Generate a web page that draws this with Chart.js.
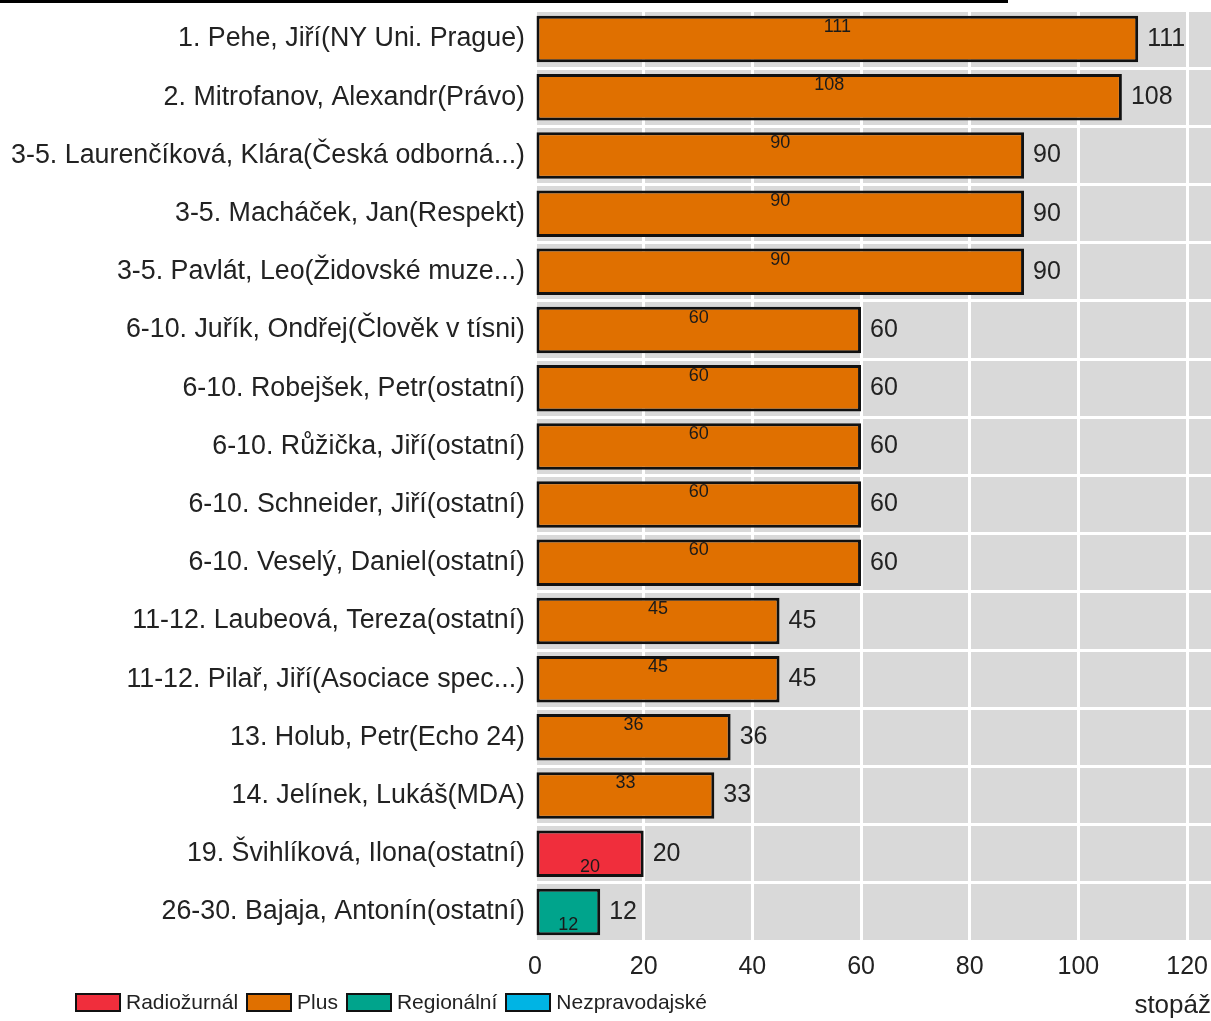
<!DOCTYPE html>
<html>
<head>
<meta charset="utf-8">
<script src="https://cdn.jsdelivr.net/npm/chart.js@4.4.1/dist/chart.umd.min.js"></script>
<style>
  html, body { margin: 0; padding: 0; background: #fff; }
  #wrap { position: relative; width: 1211px; height: 1021px; overflow: hidden; }
  #topline { position: absolute; left: 0; top: 0; width: 1008px; height: 3px; background: #000; }
  #legend { position: absolute; left: 75px; top: 990px; display: flex; align-items: center;
            font-family: "Liberation Sans", Arial, sans-serif; font-size: 21px; color: #222; }
  .item { display: flex; align-items: center; margin-right: 8px; }
  .box { width: 42px; height: 15px; border: 2px solid #111; margin-right: 5px; box-sizing: content-box; }
</style>
</head>
<body>
<div id="wrap">
  <canvas id="c" width="1211" height="1021"></canvas>
  <div id="topline"></div>
  <div id="legend"></div>
</div>
<script>
const categories = [
  "1. Pehe, Jiří(NY Uni. Prague)",
  "2. Mitrofanov, Alexandr(Právo)",
  "3-5. Laurenčíková, Klára(Česká odborná...)",
  "3-5. Macháček, Jan(Respekt)",
  "3-5. Pavlát, Leo(Židovské muze...)",
  "6-10. Juřík, Ondřej(Člověk v tísni)",
  "6-10. Robejšek, Petr(ostatní)",
  "6-10. Růžička, Jiří(ostatní)",
  "6-10. Schneider, Jiří(ostatní)",
  "6-10. Veselý, Daniel(ostatní)",
  "11-12. Laubeová, Tereza(ostatní)",
  "11-12. Pilař, Jiří(Asociace spec...)",
  "13. Holub, Petr(Echo 24)",
  "14. Jelínek, Lukáš(MDA)",
  "19. Švihlíková, Ilona(ostatní)",
  "26-30. Bajaja, Antonín(ostatní)"
];
const seriesNames = ["Radiožurnál", "Plus", "Regionální", "Nezpravodajské"];
const radiozurnal    = [0, 0, 0, 0, 0, 0, 0, 0, 0, 0, 0, 0, 0, 0, 20, 0];
const plus           = [111, 108, 90, 90, 90, 60, 60, 60, 60, 60, 45, 45, 36, 33, 0, 0];
const regionalni     = [0, 0, 0, 0, 0, 0, 0, 0, 0, 0, 0, 0, 0, 0, 0, 12];
const nezpravodajske = [0, 0, 0, 0, 0, 0, 0, 0, 0, 0, 0, 0, 0, 0, 0, 0];
const xTicks = [0, 20, 40, 60, 80, 100, 120];
const xMax = 124.4;
const colors = ["#F02E3C", "#E07000", "#00A48C", "#00B4E4"];
const labelAnchor = ["bottom", "top", "bottom", "top"];

const FONT = '"Liberation Sans", Arial, sans-serif';

const seriesValues = [radiozurnal, plus, regionalni, nezpravodajske];
const datasets = seriesNames.map((n, i) => ({
  label: n,
  data: seriesValues[i],
  backgroundColor: colors[i],
  borderColor: "#111",
  borderWidth: 3,
  borderSkipped: false,
  categoryPercentage: 1.0,
  barPercentage: 0.8
}));

const lg = document.getElementById("legend");
seriesNames.forEach((n, i) => {
  const it = document.createElement("div");
  it.className = "item";
  const b = document.createElement("div");
  b.className = "box";
  b.style.background = colors[i];
  const t = document.createElement("span");
  t.textContent = n;
  it.appendChild(b); it.appendChild(t);
  lg.appendChild(it);
});

const bgPlugin = {
  id: "bg",
  beforeDraw(chart) {
    const { ctx, chartArea: a } = chart;
    ctx.save();
    ctx.fillStyle = "#D9D9D9";
    ctx.fillRect(a.left, a.top, a.right - a.left, a.bottom - a.top);
    ctx.restore();
  }
};

const labelPlugin = {
  id: "labels",
  afterDatasetsDraw(chart) {
    const ctx = chart.ctx;
    ctx.save();
    chart.data.datasets.forEach((ds, di) => {
      const meta = chart.getDatasetMeta(di);
      meta.data.forEach((bar, i) => {
        const v = ds.data[i];
        if (!v) return;
        const p = bar.getProps(["x", "y", "base", "height"], true);
        const cx = (p.x + p.base) / 2;
        const cy = labelAnchor[di] === "top" ? p.y - p.height / 2 + 11 : p.y + p.height / 2 - 10;
        ctx.font = "18px " + FONT;
        ctx.fillStyle = "#1a1a1a";
        ctx.textAlign = "center";
        ctx.textBaseline = "middle";
        ctx.fillText(String(v), cx, cy);
      });
    });
    const n = chart.data.labels.length;
    for (let i = 0; i < n; i++) {
      let total = 0, endX = null, cy = null;
      chart.data.datasets.forEach((ds, di) => {
        const v = ds.data[i];
        if (!v) return;
        total += v;
        const bar = chart.getDatasetMeta(di).data[i];
        const p = bar.getProps(["x", "y"], true);
        if (endX === null || p.x > endX) endX = p.x;
        cy = p.y;
      });
      if (endX === null) continue;
      ctx.font = "25px " + FONT;
      ctx.fillStyle = "#222";
      ctx.textAlign = "left";
      ctx.textBaseline = "middle";
      ctx.fillText(String(total), endX + 9, cy);
    }
    ctx.restore();
  }
};

new Chart(document.getElementById("c"), {
  type: "bar",
  data: { labels: categories, datasets },
  options: {
    indexAxis: "y",
    responsive: false,
    animation: false,
    layout: { padding: { top: 10, right: 0, left: 0, bottom: 0 } },
    plugins: { legend: { display: false }, tooltip: { enabled: false } },
    scales: {
      x: {
        stacked: true,
        min: 0,
        max: xMax,
        afterBuildTicks(scale) { scale.ticks = xTicks.map(v => ({ value: v })); },
        afterFit(scale) { scale.height = 80; scale.paddingLeft = 0; scale.paddingRight = 0; },
        grid: { color: "#FFFFFF", lineWidth: 3, drawTicks: false },
        border: { display: false },
        ticks: { font: { family: FONT, size: 25 }, color: "#222", padding: 11, maxRotation: 0 },
        title: { display: true, text: "stopáž", align: "end", font: { family: FONT, size: 26 }, color: "#222", padding: { top: 0, bottom: 0 } }
      },
      y: {
        stacked: true,
        afterFit(scale) { scale.width = 535; scale.paddingTop = 0; scale.paddingBottom = 0; },
        grid: { color: "#FFFFFF", lineWidth: 3, drawTicks: false, offset: true },
        border: { display: false },
        ticks: { font: { family: FONT, size: 26.8 }, color: "#222", padding: 10, autoSkip: false }
      }
    }
  },
  plugins: [bgPlugin, labelPlugin]
});
</script>
</body>
</html>
